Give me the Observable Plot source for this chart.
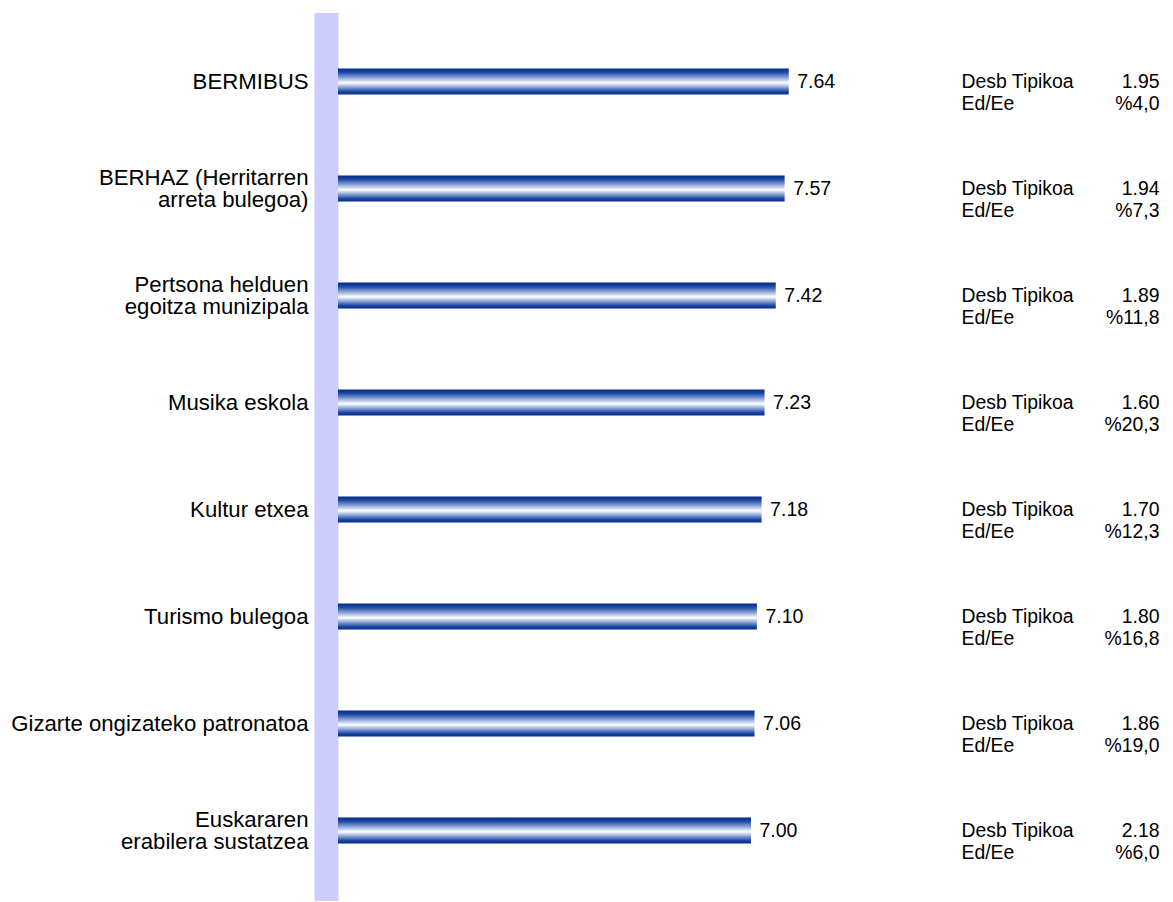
<!DOCTYPE html>
<html>
<head>
<meta charset="utf-8">
<script src="https://cdn.jsdelivr.net/npm/d3@7"></script>
<script src="https://cdn.jsdelivr.net/npm/@observablehq/plot@0.6"></script>
<style>
  html, body { margin: 0; padding: 0; background: #fff; }
  #chart svg { display: block; }
</style>
</head>
<body>
<div id="chart"></div>
<script>
const categories = [
  "BERMIBUS",
  "BERHAZ (Herritarren\narreta bulegoa)",
  "Pertsona helduen\negoitza munizipala",
  "Musika eskola",
  "Kultur etxea",
  "Turismo bulegoa",
  "Gizarte ongizateko patronatoa",
  "Euskararen\nerabilera sustatzea"
];
const means = [7.64, 7.57, 7.42, 7.23, 7.18, 7.10, 7.06, 7.00];
const stdDevs = ["1.95", "1.94", "1.89", "1.60", "1.70", "1.80", "1.86", "2.18"];
const edEe = ["%4,0", "%7,3", "%11,8", "%20,3", "%12,3", "%16,8", "%19,0", "%6,0"];
const xDomain = [0, 10];

const rows = categories.map((c, i) => ({
  cat: c, mean: means[i], sd: stdDevs[i], ed: edEe[i]
}));

const font = "'Liberation Sans', Arial, sans-serif";

const svg = Plot.plot({
  width: 1173,
  height: 902,
  marginLeft: 338,
  marginRight: 245,
  marginTop: 13,
  marginBottom: 1,
  style: { fontFamily: font, background: "#fff", color: "#000" },
  x: { domain: xDomain, axis: null },
  y: { domain: categories, axis: null, padding: 0, insetTop: 14.1, insetBottom: 16.9 },
  marks: [
    Plot.ruleX([0], { stroke: "#ccccff", strokeWidth: 24, dx: -12 }),
    Plot.barX(rows, {
      x: "mean", y: "cat",
      fill: "url(#barGrad)",
      insetTop: 40.5, insetBottom: 40.5
    }),
    Plot.text(rows, {
      x: 0, y: "cat", text: "cat",
      textAnchor: "end", lineAnchor: "middle", dx: -30,
      fontSize: 22.2, fill: "#000", lineHeight: 0.97
    }),
    Plot.text(rows, {
      x: "mean", y: "cat", text: d => d.mean.toFixed(2),
      textAnchor: "start", dx: 8, fontSize: 19.5, fill: "#000"
    }),
    Plot.text(rows, {
      frameAnchor: "right", y: "cat", text: () => "Desb Tipikoa",
      textAnchor: "start", dx: 33, dy: -0.5, fontSize: 19.4, fill: "#000"
    }),
    Plot.text(rows, {
      frameAnchor: "right", y: "cat", text: () => "Ed/Ee",
      textAnchor: "start", dx: 33, dy: 21.5, fontSize: 19.4, fill: "#000"
    }),
    Plot.text(rows, {
      frameAnchor: "right", y: "cat", text: "sd",
      textAnchor: "end", dx: 231, dy: -0.5, fontSize: 19.4, fill: "#000"
    }),
    Plot.text(rows, {
      frameAnchor: "right", y: "cat", text: "ed",
      textAnchor: "end", dx: 231, dy: 21.5, fontSize: 19.4, fill: "#000"
    })
  ]
});

// vertical gradient for the bars
const defs = d3.select(svg).insert("defs", ":first-child");
const grad = defs.append("linearGradient")
  .attr("id", "barGrad")
  .attr("x1", 0).attr("y1", 0).attr("x2", 0).attr("y2", 1);
[
  [0, "#00288a"],
  [0.15, "#1f4aa3"],
  [0.35, "#8aa3d6"],
  [0.55, "#ffffff"],
  [0.72, "#8aa3d6"],
  [0.88, "#1f4aa3"],
  [1, "#00288a"]
].forEach(([o, c]) => grad.append("stop").attr("offset", o).attr("stop-color", c));

document.getElementById("chart").appendChild(svg);
</script>
</body>
</html>
